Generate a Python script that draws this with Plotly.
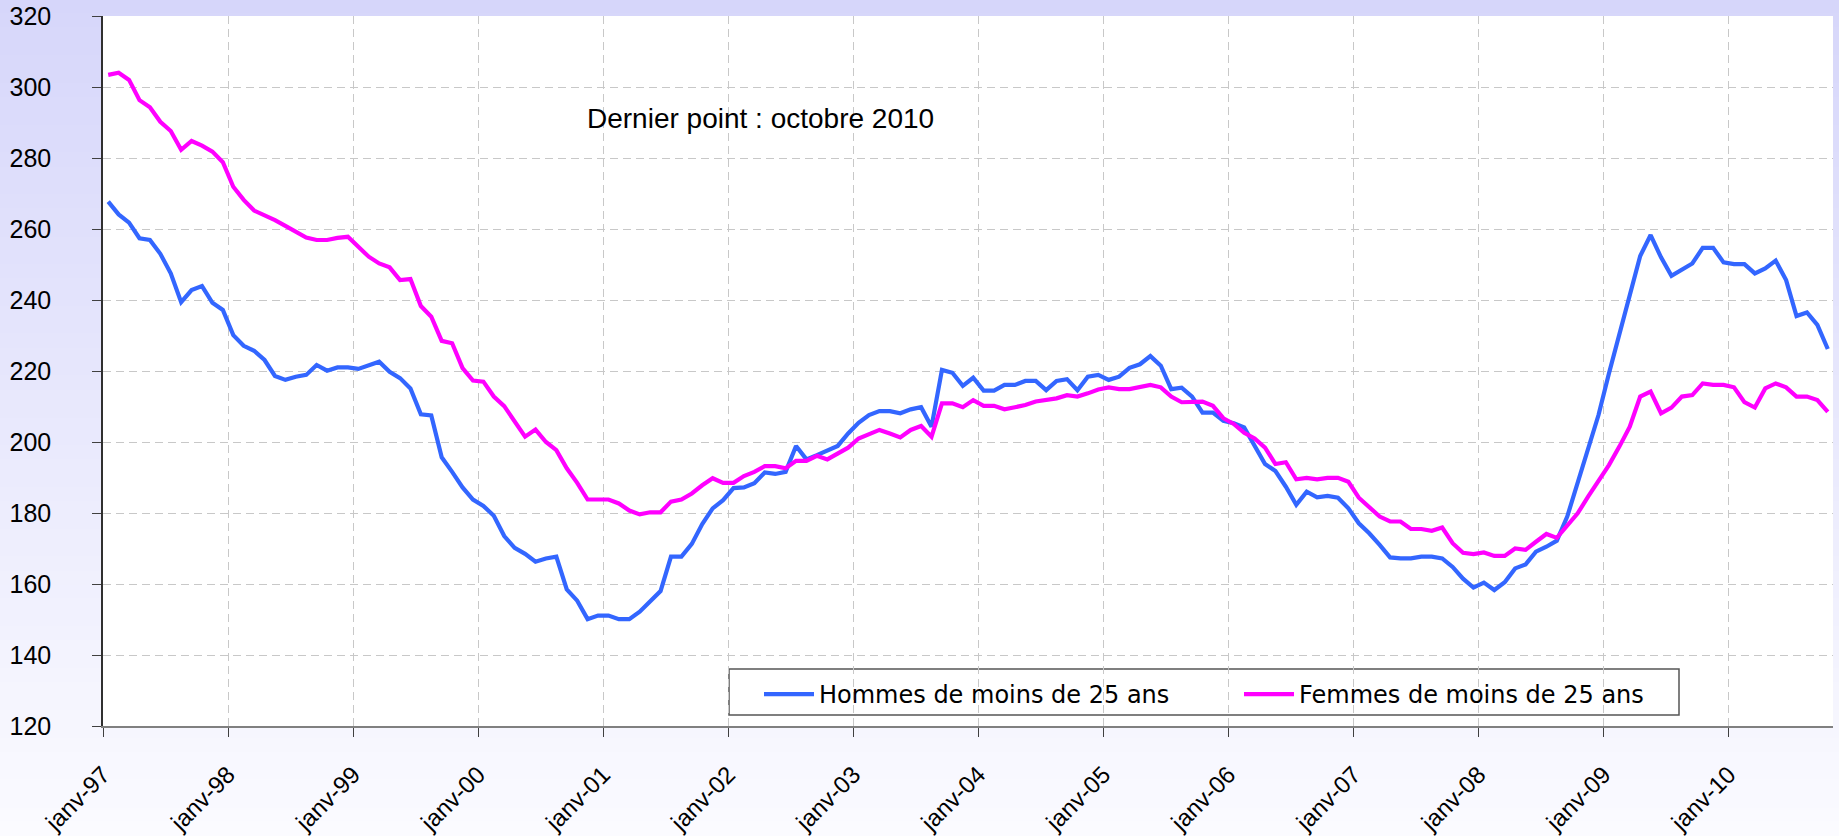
import plotly.graph_objects as go

# ---- data (monthly, janv-97 .. oct-2010) ----
tick_labels = ["janv-97", "janv-98", "janv-99", "janv-00", "janv-01", "janv-02", "janv-03",
               "janv-04", "janv-05", "janv-06", "janv-07", "janv-08", "janv-09", "janv-10"]

hommes = [
    267.7, 264.1, 261.8, 257.4, 256.9, 253.0, 247.5, 239.4, 242.8, 243.9, 239.2, 237.2,
    230.1, 227.1, 225.7, 223.1, 218.6, 217.5, 218.4, 218.9, 221.7, 220.1, 221.0, 221.0,
    220.6, 221.7, 222.6, 219.8, 218.0, 215.1, 207.8, 207.5, 195.7, 191.6, 187.2, 183.8,
    182.0, 179.2, 173.5, 170.2, 168.5, 166.3, 167.2, 167.7, 158.5, 155.3, 150.1, 151.1,
    151.1, 150.1, 150.1, 152.2, 155.0, 158.0, 167.7, 167.7, 171.3, 176.9, 181.3, 183.6,
    187.0, 187.2, 188.4, 191.4, 191.0, 191.6, 198.9, 195.1, 196.3, 197.7, 198.9, 202.4,
    205.4, 207.6, 208.7, 208.7, 208.1, 209.2, 209.8, 204.3, 220.3, 219.5, 215.8, 218.1,
    214.5, 214.5, 216.1, 216.1, 217.2, 217.2, 214.6, 217.2, 217.7, 214.6, 218.4, 218.9,
    217.5, 218.4, 220.9, 221.9, 224.2, 221.5, 214.9, 215.3, 212.8, 208.3, 208.3, 206.0,
    205.3, 204.1, 199.2, 193.8, 191.8, 187.4, 182.3, 186.0, 184.4, 184.8, 184.3, 181.3,
    177.1, 174.3, 171.0, 167.5, 167.2, 167.2, 167.7, 167.7, 167.2, 164.8, 161.5, 159.0,
    160.4, 158.3, 160.5, 164.4, 165.5, 169.1, 170.5, 172.2, 179.0, 188.4, 198.7, 207.6,
    219.3, 230.6, 240.9, 252.4, 258.3, 252.0, 246.8, 248.5, 250.3, 254.7, 254.7, 250.6,
    250.1, 250.1, 247.5, 248.9, 251.1, 245.6, 235.5, 236.5, 233.0, 226.2,
]

femmes = [
    303.4, 304.0, 302.0, 296.3, 294.3, 290.2, 287.6, 282.3, 284.8, 283.5, 281.8, 278.8,
    271.9, 268.2, 265.2, 263.9, 262.5, 260.9, 259.4, 257.6, 256.9, 256.9, 257.5, 257.8,
    255.0, 252.2, 250.3, 249.2, 245.6, 245.9, 238.3, 235.3, 228.5, 227.8, 220.8, 217.3,
    217.0, 212.8, 210.1, 205.7, 201.5, 203.5, 200.0, 197.7, 192.6, 188.5, 183.8, 183.8,
    183.8, 182.7, 180.7, 179.6, 180.2, 180.2, 183.2, 183.8, 185.5, 187.8, 189.8, 188.5,
    188.5, 190.4, 191.6, 193.2, 193.2, 192.6, 194.7, 194.7, 196.1, 195.1, 196.6, 198.4,
    201.0, 202.3, 203.4, 202.4, 201.3, 203.4, 204.5, 201.5, 210.9, 210.9, 209.8, 211.8,
    210.2, 210.2, 209.2, 209.8, 210.4, 211.4, 211.8, 212.3, 213.2, 212.8, 213.7, 214.8,
    215.4, 214.9, 214.9, 215.4, 216.1, 215.4, 212.8, 211.2, 211.2, 211.4, 210.2, 206.7,
    205.1, 202.6, 201.0, 198.4, 193.8, 194.3, 189.5, 189.9, 189.5, 189.9, 189.9, 188.8,
    184.3, 181.8, 179.0, 177.6, 177.6, 175.5, 175.5, 175.0, 175.9, 171.5, 168.8, 168.4,
    168.9, 167.9, 167.9, 170.0, 169.6, 171.9, 174.1, 173.0, 176.6, 179.9, 184.6, 188.8,
    193.5, 198.7, 204.3, 212.8, 214.2, 208.1, 209.7, 212.8, 213.2, 216.5, 216.1, 216.1,
    215.4, 211.2, 209.7, 215.1, 216.5, 215.4, 212.8, 212.8, 211.8, 208.5,
]

months = list(range(len(hommes)))            # month index, 0 = janv-97
tick_pos = [12 * k - 0.5 for k in range(len(tick_labels))]   # category boundaries

fig = go.Figure()
fig.add_trace(go.Scatter(x=months, y=hommes, mode="lines", name="Hommes de moins de 25 ans",
                         line=dict(color="#3366FF", width=4.2)))
fig.add_trace(go.Scatter(x=months, y=femmes, mode="lines", name="Femmes de moins de 25 ans",
                         line=dict(color="#FF00FF", width=4.2)))

# pixel geometry of the plot area (for paper coordinates)
PL, PR, PT, PB = 103, 1833, 16, 726
def pxx(px):
    return (px - PL) / (PR - PL)
def pxy(py):
    return (PB - py) / (PB - PT)

# background gradient (lavender top -> near white bottom)
shapes = []
n = 60
c_top = (214, 214, 250)
c_bot = (251, 251, 255)
for k in range(n):
    a = 836 * k / n
    b = 836 * (k + 1) / n
    t = (k + 0.5) / n
    col = tuple(round(c_top[j] + (c_bot[j] - c_top[j]) * t) for j in range(3))
    shapes.append(dict(type="rect", xref="paper", yref="paper", layer="below",
                       x0=-0.07, x1=1.01, y0=pxy(b) - 0.001, y1=pxy(a) + 0.001,
                       fillcolor="rgb(%d,%d,%d)" % col, line=dict(width=0)))
shapes.append(dict(type="rect", xref="paper", yref="paper", layer="below",
                   x0=0, x1=1, y0=0, y1=1, fillcolor="white", line=dict(width=0)))
# legend frame (white box hiding the grid)
shapes.append(dict(type="rect", xref="paper", yref="paper", layer="between",
                   x0=pxx(729), x1=pxx(1679), y0=pxy(715), y1=pxy(669),
                   fillcolor="white", line=dict(color="#555555", width=1.5)))

fig.update_layout(
    width=1839, height=836, autosize=False,
    margin=dict(l=PL, r=1839 - PR, t=PT, b=836 - PB, pad=0, autoexpand=False),
    paper_bgcolor="rgb(240,240,253)", plot_bgcolor="white",
    shapes=shapes,
    showlegend=True,
    legend=dict(orientation="h", x=pxx(729), y=pxy(672), xanchor="left", yanchor="top",
                bgcolor="rgba(0,0,0,0)", borderwidth=0,
                font=dict(family="DejaVu Sans", size=24, color="black"),
                indentation=30, itemwidth=50, entrywidth=385),
    annotations=[dict(text="Dernier point : octobre 2010", xref="paper", yref="paper",
                      x=pxx(760), y=pxy(118), xanchor="center", yanchor="middle",
                      showarrow=False,
                      font=dict(family="Liberation Sans", size=28, color="black"))],
)

fig.update_xaxes(range=[-0.5, len(hommes) - 0.5], tickmode="array", tickvals=tick_pos,
                 ticktext=tick_labels, tickangle=-45, automargin=False,
                 showgrid=True, gridcolor="#C8C8C8", griddash="8px,5px", gridwidth=1,
                 showline=True, linecolor="#808080", linewidth=2,
                 ticks="outside", ticklen=9, tickcolor="#404040", tickwidth=1,
                 ticklabelstandoff=14,
                 tickfont=dict(family="Liberation Sans", size=24, color="black"),
                 zeroline=False)
fig.update_yaxes(range=[120, 320], tickmode="linear", tick0=120, dtick=20, automargin=False,
                 showgrid=True, gridcolor="#C8C8C8", griddash="8px,5px", gridwidth=1,
                 showline=True, linecolor="#303030", linewidth=1.5,
                 ticks="outside", ticklen=9, tickcolor="#404040", tickwidth=1,
                 ticklabelstandoff=36,
                 tickfont=dict(family="Liberation Sans", size=25, color="black"),
                 zeroline=False)

fig.write_html("out.html", config={"displayModeBar": False},
               post_script="document.body.style.margin='0';document.body.style.overflow='hidden';")
